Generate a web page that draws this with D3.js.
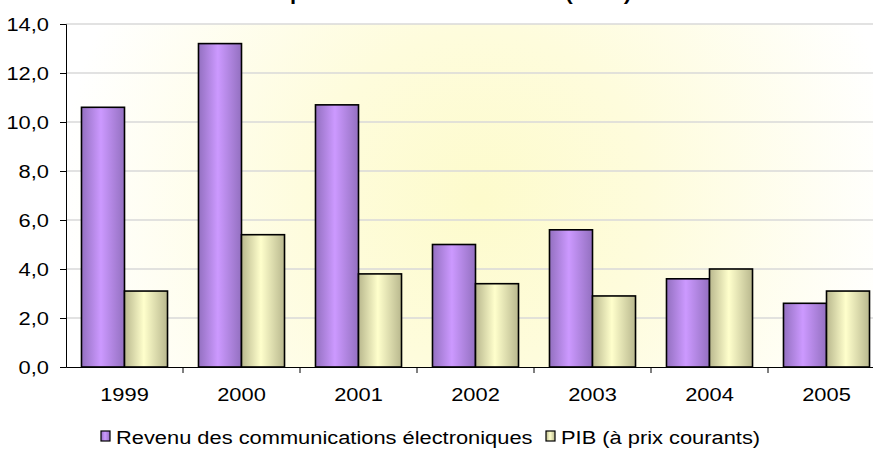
<!DOCTYPE html>
<html><head><meta charset="utf-8">
<script src="https://cdn.jsdelivr.net/npm/d3@7"></script>
<style>html,body{margin:0;padding:0;background:#fff;overflow:hidden}svg{display:block;font-family:"Liberation Sans",Arial,sans-serif}</style>
</head><body>
<svg id="c" width="873" height="450"></svg>
<script>
const years = ["1999","2000","2001","2002","2003","2004","2005"];
const revenu = [10.6, 13.2, 10.7, 5.0, 5.6, 3.6, 2.6];
const pib = [3.1, 5.4, 3.8, 3.4, 2.9, 4.0, 3.1];
const seriesNames = ["Revenu des communications électroniques", "PIB (à prix courants)"];
const yTicks = [0, 2, 4, 6, 8, 10, 12, 14];
const title = "Taux de croissance comparés du revenu et du PIB (en %)";

const SX = 1.15; // horizontal stretch of the text in the reference
const svg = d3.select("#c");
const m = {left: 66, right: 885, top: 24, bottom: 367};
const x = d3.scaleBand().domain(years).range([m.left, m.right]).paddingInner(0).paddingOuter(0);
const y = d3.scaleLinear().domain([0, 14]).range([m.bottom, m.top]);
const inner = d3.scaleBand().domain([0,1]).range([0, x.bandwidth()]).paddingInner(0).paddingOuter(0.36);

const defs = svg.append("defs");
const bg = defs.append("radialGradient").attr("id","bg").attr("gradientUnits","userSpaceOnUse")
  .attr("cx", 480).attr("cy", 200).attr("r", 420);
bg.append("stop").attr("offset","0%").attr("stop-color","#fdfbcc");
bg.append("stop").attr("offset","40%").attr("stop-color","#fefcdc");
bg.append("stop").attr("offset","100%").attr("stop-color","#ffffff");
function barGrad(id, edge, mid){
  const g = defs.append("linearGradient").attr("id", id).attr("x1","0%").attr("x2","100%");
  g.append("stop").attr("offset","0%").attr("stop-color", edge);
  g.append("stop").attr("offset","45%").attr("stop-color", mid);
  g.append("stop").attr("offset","100%").attr("stop-color", edge);
}
barGrad("gp", "#9370c0", "#cc99ff");
barGrad("gy", "#b9b88e", "#ffffcc");

svg.append("rect").attr("x", m.left).attr("y", m.top).attr("width", m.right-m.left).attr("height", m.bottom-m.top).attr("fill","url(#bg)");

// title (cropped at the top)
svg.append("text").attr("transform", `translate(631,0) scale(${SX},1)`).attr("text-anchor","end")
  .attr("font-size", 19).attr("font-weight","bold").attr("fill","#000").text(title);

// gridlines
svg.append("g").selectAll("line").data(yTicks.filter(d=>d>0)).join("line")
  .attr("x1", m.left).attr("x2", m.right).attr("y1", d=>y(d)).attr("y2", d=>y(d))
  .attr("stroke","#d8d8d8").attr("stroke-width",1.5);

// bars
const data = [revenu, pib];
const fills = ["url(#gp)","url(#gy)"];
data.forEach((vals, s) => {
  svg.append("g").selectAll("rect").data(vals).join("rect")
    .attr("x", (d,i)=> x(years[i]) + inner(s))
    .attr("y", d=> y(d))
    .attr("width", inner.bandwidth())
    .attr("height", d=> y(0)-y(d))
    .attr("fill", fills[s]).attr("stroke","#000").attr("stroke-width",1.6);
});

// y axis
const yAxis = d3.axisLeft(y).tickValues(yTicks).tickSize(6).tickPadding(8.8)
  .tickFormat(d => d3.format(".1f")(d).replace(".", ","));
const gy = svg.append("g").attr("transform",`translate(${m.left},0)`).call(yAxis);
gy.select(".domain").attr("stroke","#000").attr("stroke-width",1);
gy.selectAll(".tick line").attr("stroke","#000");
gy.selectAll("text").attr("font-size",19).attr("font-family","Liberation Sans, Arial, sans-serif").attr("fill","#000")
  .attr("transform", `scale(${SX},1)`);

// x axis
const gx = svg.append("g").attr("transform",`translate(0,${m.bottom})`)
  .call(d3.axisBottom(x).tickSize(0).tickPadding(21));
gx.select(".domain").attr("stroke","#000").attr("stroke-width",1);
gx.selectAll("text").attr("font-size",19).attr("font-family","Liberation Sans, Arial, sans-serif").attr("fill","#000")
  .attr("transform", `scale(${SX},1)`);
svg.append("g").selectAll("line").data(years.slice(1)).join("line")
  .attr("x1", d=>x(d)).attr("x2", d=>x(d)).attr("y1", m.bottom).attr("y2", m.bottom+6)
  .attr("stroke","#000");

// legend
const leg = [{x:101, name: seriesNames[0], f: fills[0]}, {x:546, name: seriesNames[1], f: fills[1]}];
const lg = svg.append("g");
leg.forEach(l => {
  lg.append("rect").attr("x", l.x).attr("y", 431).attr("width", 9).attr("height", 10)
    .attr("fill", l.f).attr("stroke","#000").attr("stroke-width",1.2);
  lg.append("text").attr("transform", `translate(${l.x + 15},444) scale(${SX},1)`)
    .attr("font-size",19).attr("fill","#000").text(l.name);
});
</script>
</body></html>
